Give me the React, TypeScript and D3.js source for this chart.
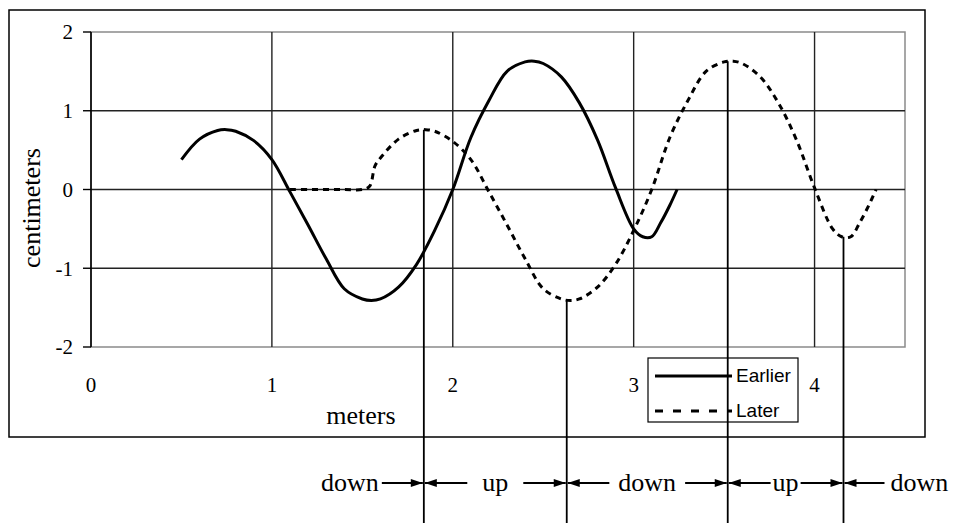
import * as d3 from 'd3';

// wave readings, metres vs centimetres
const earlierX = [0.5, 0.6, 0.7, 0.75, 0.8, 0.9, 1.0, 1.1, 1.2, 1.3, 1.4, 1.5, 1.55, 1.6, 1.7, 1.8, 1.9, 2.0, 2.1, 2.2, 2.3, 2.4, 2.45, 2.5, 2.6, 2.7, 2.8, 2.9, 3.0, 3.05, 3.1, 3.15, 3.2, 3.24];
const earlierY = [0.38, 0.64, 0.75, 0.76, 0.74, 0.62, 0.38, -0.03, -0.45, -0.88, -1.26, -1.39, -1.41, -1.39, -1.24, -0.95, -0.52, 0.0, 0.66, 1.13, 1.5, 1.62, 1.63, 1.6, 1.43, 1.1, 0.63, 0.02, -0.5, -0.6, -0.6, -0.42, -0.2, 0.0];

const laterX = [1.1, 1.2, 1.3, 1.4, 1.5, 1.54, 1.57, 1.6, 1.7, 1.8, 1.85, 1.9, 2.0, 2.1, 2.2, 2.3, 2.4, 2.5, 2.6, 2.65, 2.7, 2.8, 2.9, 3.0, 3.1, 3.2, 3.3, 3.4, 3.5, 3.55, 3.6, 3.7, 3.8, 3.9, 4.0, 4.1, 4.15, 4.2, 4.25, 4.3, 4.34];
const laterY = [0, 0, 0, 0, 0, 0.04, 0.3, 0.4, 0.64, 0.75, 0.76, 0.74, 0.61, 0.38, -0.03, -0.45, -0.88, -1.26, -1.39, -1.41, -1.39, -1.24, -0.95, -0.52, 0.0, 0.66, 1.13, 1.5, 1.62, 1.63, 1.6, 1.43, 1.1, 0.63, 0.02, -0.5, -0.6, -0.6, -0.42, -0.2, 0.0];

const xTicks = [0, 1, 2, 3, 4];
const yTicks = [-2, -1, 0, 1, 2];
const gridX = [1, 2, 3, 4];
const gridY = [-1, 0, 1];

// crests and troughs of the later wave that the arrows refer to
const markX = [1.84, 2.63, 3.52, 4.16];
const markY = [0.76, -1.41, 1.63, -0.6];
const motionLabels = ['down', 'up', 'down', 'up', 'down'];

const serif = '"Liberation Serif", "Times New Roman", serif';
const sans = '"Liberation Sans", Arial, sans-serif';

function textWidth(s: string, font: string) {
  const ctx = document.createElement('canvas').getContext('2d');
  if (!ctx) return s.length * 13;
  ctx.font = font;
  return ctx.measureText(s).width;
}

export default function App() {
  const width = 954;
  const height = 523;

  const x = d3.scaleLinear().domain([0, 4.5]).range([91, 905]);
  const y = d3.scaleLinear().domain([-2, 2]).range([347, 32]);

  const path = (xs: number[], ys: number[]) =>
    d3.line<number>()
      .x((d) => x(xs[d]))
      .y((d) => y(ys[d]))
      .curve(d3.curveCatmullRom.alpha(0.5))(d3.range(xs.length)) || '';

  const bounds = markX.map((d) => x(d));
  const rowY = 483;
  const pads = [3, 15, 9, 2, 6];
  const labelFont = `26px ${serif}`;

  const arrows: { x1: number; x2: number }[] = [];
  const labels: { x: number; anchor: string; text: string }[] = [];
  motionLabels.forEach((t, i) => {
    const w = textWidth(t, labelFont);
    if (i === 0) {
      const r = bounds[0];
      labels.push({ x: r - 42 - pads[i], anchor: 'end', text: t });
      arrows.push({ x1: r - 42, x2: r - 1 });
    } else if (i === motionLabels.length - 1) {
      const l = bounds[i - 1];
      arrows.push({ x1: l + 41, x2: l + 1 });
      labels.push({ x: l + 41 + pads[i], anchor: 'start', text: t });
    } else {
      const l = bounds[i - 1];
      const r = bounds[i];
      const c = (l + r) / 2;
      labels.push({ x: c, anchor: 'middle', text: t });
      arrows.push({ x1: c - w / 2 - pads[i], x2: l + 1 });
      arrows.push({ x1: c + w / 2 + pads[i], x2: r - 1 });
    }
  });

  return (
    <svg width={width} height={height} style={{ display: 'block', position: 'absolute', left: 0, top: 0 }}>
      <style>{'body{margin:0}'}</style>
      <defs>
        <marker id="head" viewBox="0 0 12 8" refX="12" refY="4" markerWidth="13" markerHeight="8"
          markerUnits="userSpaceOnUse" orient="auto">
          <path d="M0,0 L12,4 L0,8 Z" fill="#000" />
        </marker>
      </defs>
      <rect x={0} y={0} width={width} height={height} fill="#fff" />

      <rect x={9} y={10} width={916} height={427} fill="none" stroke="#000" strokeWidth={1.5} />

      {/* plot area */}
      <rect x={x(0)} y={y(2)} width={x(4.5) - x(0)} height={y(-2) - y(2)} fill="none" stroke="#8a8a8a" strokeWidth={1.5} />
      {gridY.map((v) => (
        <line key={`gy${v}`} x1={x(0)} x2={x(4.5)} y1={y(v)} y2={y(v)} stroke="#222" strokeWidth={1.4} />
      ))}
      {gridX.map((v) => (
        <line key={`gx${v}`} x1={x(v)} x2={x(v)} y1={y(2)} y2={y(-2)} stroke="#222" strokeWidth={1.4} />
      ))}
      <line x1={x(0)} x2={x(0)} y1={y(2)} y2={y(-2)} stroke="#000" strokeWidth={1.6} />
      {yTicks.map((v) => (
        <g key={`yt${v}`}>
          <line x1={x(0) - 8} x2={x(0)} y1={y(v)} y2={y(v)} stroke="#000" strokeWidth={1.4} />
          <text x={73} y={y(v)} dy="0.35em" textAnchor="end" fontFamily={serif} fontSize={21}>{v}</text>
        </g>
      ))}
      {xTicks.map((v) => (
        <text key={`xt${v}`} x={x(v)} y={392} textAnchor="middle" fontFamily={serif} fontSize={21}>{v}</text>
      ))}

      <text x={361} y={424} textAnchor="middle" fontFamily={serif} fontSize={26}>meters</text>
      <text transform="translate(40,208) rotate(-90)" textAnchor="middle" fontFamily={serif} fontSize={26}>centimeters</text>

      {/* waves */}
      <path d={path(earlierX, earlierY)} fill="none" stroke="#000" strokeWidth={3} strokeLinejoin="round" />
      <path d={path(laterX, laterY)} fill="none" stroke="#000" strokeWidth={3} strokeDasharray="6,5" />

      {/* legend */}
      <rect x={648} y={358} width={150} height={64} fill="none" stroke="#000" strokeWidth={1.2} />
      <line x1={655} x2={732} y1={376} y2={376} stroke="#000" strokeWidth={3} />
      <line x1={655} x2={732} y1={411} y2={411} stroke="#000" strokeWidth={3} strokeDasharray="8,10" />
      <text x={736} y={382} fontFamily={sans} fontSize={19}>Earlier</text>
      <text x={736} y={417} fontFamily={sans} fontSize={19}>Later</text>

      {/* markers at later-wave crests and troughs */}
      {markX.map((v, i) => (
        <line key={`mk${i}`} x1={x(v)} x2={x(v)} y1={y(markY[i])} y2={height} stroke="#000" strokeWidth={1.8} />
      ))}

      {arrows.map((a, i) => (
        <line key={`ar${i}`} x1={a.x1} x2={a.x2} y1={rowY} y2={rowY} stroke="#000" strokeWidth={2.2} markerEnd="url(#head)" />
      ))}
      {labels.map((l, i) => (
        <text key={`lb${i}`} x={l.x} y={rowY + 8} textAnchor={l.anchor as 'start' | 'middle' | 'end'} fontFamily={serif} fontSize={26}>{l.text}</text>
      ))}
    </svg>
  );
}
